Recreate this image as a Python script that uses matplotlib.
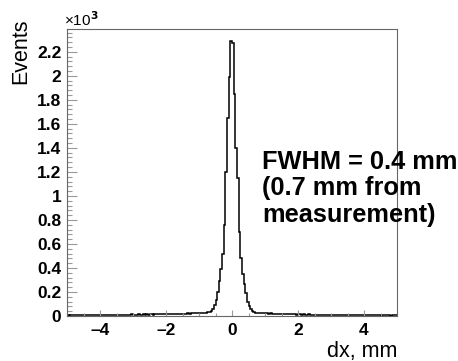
import numpy as np
import matplotlib
matplotlib.use("Agg")
import matplotlib.pyplot as plt
from matplotlib.ticker import MultipleLocator, FuncFormatter

plt.rcParams['font.family'] = ['Liberation Sans', 'DejaVu Sans']

# histogram: 200 bins of 0.05 mm from -5 to 5
x_min, x_max, n_bins = -5.0, 5.0, 200

# left tail, -5.00 .. -0.75
left_tail = [6, 4, 7, 5, 6, 8, 5, 7, 6, 9,
             7, 6, 8, 7, 9, 6, 8, 7, 10, 8,
             7, 9, 8, 10, 7, 9, 11, 8, 10, 9,
             11, 9, 10, 12, 9, 11, 10, 12, 11, 13,
             10, 12, 11, 13, 12, 11, 14, 12, 13, 12,
             14, 13, 12, 15, 13, 14, 16, 13, 15, 14,
             16, 15, 17, 15, 16, 18, 17, 16, 19, 18,
             19, 20, 18, 21, 20, 22, 21, 23, 22, 24,
             25, 26, 24, 27, 28]
# peak region, -0.75 .. 0
left_core = [30, 36, 45, 62, 90, 130, 200, 290, 390, 520, 760, 1200, 1650, 1990, 2290]
# peak region, 0 .. 0.75
right_core = [2275, 1850, 1400, 1150, 700, 480, 350, 265, 190, 120, 80, 58, 42, 32, 27]
# right tail, 0.75 .. 5.00
right_tail = [26, 24, 25, 23, 22, 23, 21, 20, 21, 19,
              18, 19, 17, 18, 16, 17, 15, 16, 17, 14,
              15, 13, 14, 15, 12, 14, 13, 12, 13, 11,
              12, 13, 11, 12, 10, 11, 12, 10, 11, 9,
              10, 11, 9, 10, 8, 10, 9, 11, 8, 9,
              8, 10, 7, 9, 8, 7, 9, 8, 6, 8,
              7, 6, 8, 7, 5, 7, 6, 8, 6, 5,
              7, 6, 5, 7, 6, 4, 6, 5, 7, 5,
              6, 4, 5, 6, 5]

counts = np.array(left_tail + left_core + right_core + right_tail, dtype=float)
edges = np.linspace(x_min, x_max, n_bins + 1)

fig = plt.figure(figsize=(4.58, 3.61), dpi=100)
ax = fig.add_axes([67/458, 1 - 316/361, 330/458, 287/361])

ax.stairs(counts / 1000.0, edges, baseline=None, color='black', lw=1.1)

ax.set_xlim(x_min, x_max)
ax.set_ylim(0, 2.39)

ax.xaxis.set_major_locator(MultipleLocator(2))
ax.xaxis.set_minor_locator(MultipleLocator(0.5))
ax.yaxis.set_major_locator(MultipleLocator(0.2))
ax.yaxis.set_minor_locator(MultipleLocator(0.04))
ax.yaxis.set_major_formatter(FuncFormatter(lambda v, p: '%g' % round(v, 2)))
ax.xaxis.set_major_formatter(FuncFormatter(lambda v, p: ('%g' % v).replace('-', '\u2013')))

ax.tick_params(axis='both', which='both', direction='in', color='#999999', width=0.8,
               labelsize=12.5)
ax.tick_params(axis='x', which='major', length=4.5, pad=5)
ax.tick_params(axis='x', which='minor', length=2.3)
ax.tick_params(axis='y', which='major', length=7.2, pad=4)
ax.tick_params(axis='y', which='minor', length=3.6)
for lab in ax.get_xticklabels() + ax.get_yticklabels():
    lab.set_fontweight('bold')

for s in ax.spines.values():
    s.set_color('#666666')
    s.set_linewidth(0.8)

fig.text(20.5/458, 1 - 19/361, 'Events', rotation=90, ha='center', va='top', fontsize=15.5)
fig.text(397/458, 1 - 351/361, 'dx, mm', ha='right', va='center', fontsize=15.5)
fig.text(64/458, 1 - 26/361, '\u00d710$^{\\mathbf{3}}$', ha='left', va='baseline', fontsize=11)

fig.text(262/458, 1 - 150/361, 'FWHM = 0.4 mm\n(0.7 mm from\nmeasurement)',
         ha='left', va='top', fontsize=18.3, fontweight='bold', linespacing=1.12,
         multialignment='left')

fig.savefig('out.png', dpi=100)
